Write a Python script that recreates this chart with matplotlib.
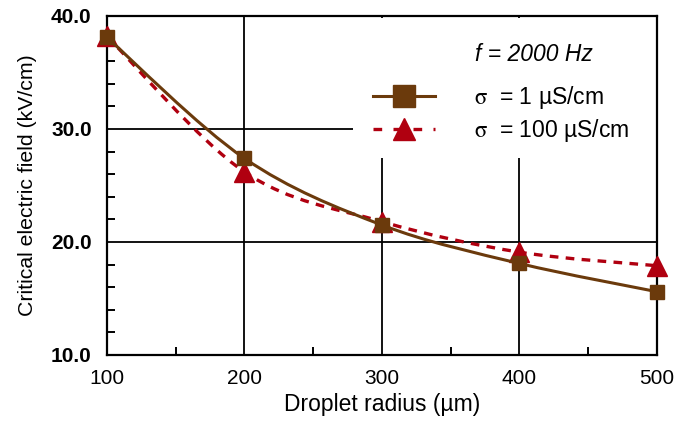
import numpy as np
import matplotlib.pyplot as plt
from matplotlib.path import Path
from matplotlib.patches import PathPatch, Rectangle
from matplotlib.lines import Line2D

plt.rcParams['font.family'] = ['Liberation Sans', 'DejaVu Sans']
plt.rcParams['mathtext.fontset'] = 'stix'

radius = [100, 200, 300, 400, 500]
field_1 = [38.1, 27.4, 21.5, 18.1, 15.6]
field_100 = [38.2, 26.2, 21.8, 19.1, 17.9]

brown = '#6b3a0c'
red = '#b00010'


def smooth_path(x, y, tension=1/6):
    """ Excel style smoothed line through the points (cubic bezier). """
    pts = np.column_stack([x, y]).astype(float)
    verts = [pts[0]]
    codes = [Path.MOVETO]
    for i in range(len(pts) - 1):
        p0 = pts[max(i - 1, 0)]
        p1 = pts[i]
        p2 = pts[i + 1]
        p3 = pts[min(i + 2, len(pts) - 1)]
        c1 = p1 + (p2 - p0) * tension
        c2 = p2 - (p3 - p1) * tension
        verts += [c1, c2, p2]
        codes += [Path.CURVE4] * 3
    return Path(verts, codes)


fig = plt.figure(figsize=(6.92, 4.21), dpi=100)
ax = fig.add_axes([0.1546, 0.1568, 0.7948, 0.8052])

ax.set_xlim(100, 500)
ax.set_ylim(10, 40)
ax.set_xticks([100, 200, 300, 400, 500])
ax.set_yticks([10, 20, 30, 40])
ax.set_xticks([150, 250, 350, 450], minor=True)
ax.set_yticks(np.arange(12, 40, 2), minor=True)
ax.set_yticklabels(['10.0', '20.0', '30.0', '40.0'], fontweight='bold')
ax.tick_params(which='major', length=0, labelsize=15)
ax.tick_params(axis='x', which='major', pad=10)
ax.tick_params(axis='y', which='major', pad=11)
ax.tick_params(which='minor', direction='in', length=5.5, width=1.4, color='black')
ax.grid(True, which='major', color='black', linewidth=1.3)
for s in ax.spines.values():
    s.set_linewidth(1.6)

# legend area hides the grid
ax.add_patch(Rectangle((279, 27.4), 220.5, 12.4, facecolor='white',
                       edgecolor='none', zorder=2))

ax.add_patch(PathPatch(smooth_path(radius, field_100), facecolor='none',
                       edgecolor=red, linewidth=2.4, linestyle=(0, (2.6, 2.2)), zorder=3))
ax.plot(radius, field_100, linestyle='none', marker='^', markersize=14,
        color=red, clip_on=False, zorder=4)
ax.add_patch(PathPatch(smooth_path(radius, field_1), facecolor='none',
                       edgecolor=brown, linewidth=2.2, zorder=5))
ax.plot(radius, field_1, linestyle='none', marker='s', markersize=10.5,
        color=brown, clip_on=False, zorder=6)

handles = [Line2D([], [], color=brown, linewidth=2.2, marker='s', markersize=16),
           Line2D([], [], color=red, linewidth=2.4, linestyle=(0, (2.6, 3.4)),
                  marker='^', markersize=16)]
ax.legend(handles, [r'$\mathrm{\sigma}$  = 1 µS/cm', r'$\mathrm{\sigma}$  = 100 µS/cm'],
          loc='upper left', bbox_to_anchor=(0.4836, 0.80), frameon=False,
          fontsize=16.5, handlelength=2.7, handletextpad=1.7, labelspacing=0.25,
          borderpad=0, borderaxespad=0)

ax.text(0.776, 0.885, 'f = 2000 Hz', transform=ax.transAxes, fontsize=16.5,
        style='italic', ha='center', va='center')

ax.set_xlabel('Droplet radius (µm)', fontsize=16.5, labelpad=4)
ax.set_ylabel('Critical electric field (kV/cm)', fontsize=15.3, labelpad=10)

fig.savefig('out.png', dpi=100)
